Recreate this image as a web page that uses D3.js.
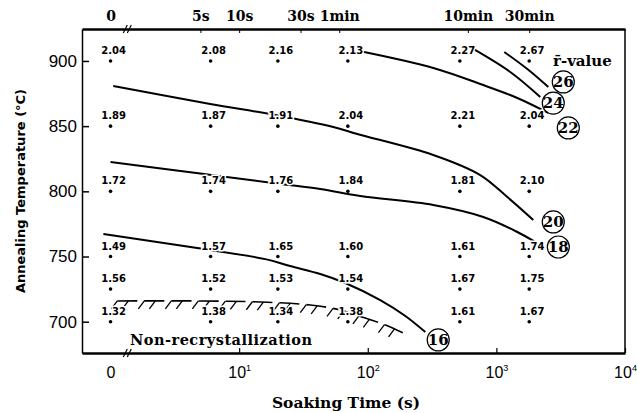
<!DOCTYPE html>
<html>
<head>
<meta charset="utf-8">
<script src="https://cdn.jsdelivr.net/npm/d3@7"></script>
<style>
  body { margin: 0; background: white; }
</style>
</head>
<body>
<div id="chart"></div>
<script>
// soaking times (s) of the measured columns, 0 = no soaking
const times = [0, 6, 20, 70, 520, 1800];
// annealing temperatures of the rows
const temps = [900, 850, 800, 750, 725, 700];
// r-values, one row per temperature
const r900 = [2.04, 2.08, 2.16, 2.13, 2.27, 2.67];
const r850 = [1.89, 1.87, 1.91, 2.04, 2.21, 2.04];
const r800 = [1.72, 1.74, 1.76, 1.84, 1.81, 2.10];
const r750 = [1.49, 1.57, 1.65, 1.60, 1.61, 1.74];
const r725 = [1.56, 1.52, 1.53, 1.54, 1.67, 1.75];
const r700 = [1.32, 1.38, 1.34, 1.38, 1.61, 1.67];
const rRows = [r900, r850, r800, r750, r725, r700];

// iso r-value lines, [time, temp]
const line26 = [[1152, 906.9], [1740, 893.8], [2535, 880]];
const line24 = [[661, 909.2], [1282, 891.5], [2194, 872.3]];
const line22 = [[85.9, 907.6], [323, 894.6], [791, 881.5], [1455, 871.6], [2535, 860.1]];
const line20 = [[1.05, 880.8], [5.96, 867], [19.1, 858.5], [53.9, 849.3], [82.9, 844], [323, 827.9], [749, 812.5], [1216, 795.6], [1936, 778]];
const line18 = [[1.0, 822.5], [4.98, 813.6], [20.9, 805.7], [42.7, 801.8], [87.4, 796.4], [323, 789.5], [791, 780.3], [1455, 768.8], [2008, 761.1]];
const line16 = [[0.88, 767.3], [4.72, 756.5], [16, 748], [24.9, 742.7], [42.7, 736.6], [66.8, 729.7], [125, 716.6], [196, 704.4], [280, 692.1]];
const isoLines = [line26, line24, line22, line20, line18, line16];

// circled labels of the iso lines
const isoNames = ["26", "24", "22", "20", "18", "16"];
const isoLabelTimes = [3313, 2769, 3624, 2769, 3030, 353];
const isoLabelTemps = [883.9, 867.7, 848.6, 776.5, 757.3, 686];

// non-recrystallization boundary
const boundary = [[1.13, 715.9], [4.98, 715.9], [14.6, 715.1], [35.7, 712.8], [61.1, 709], [95.6, 702.8], [137, 697.5], [189, 691.3]];

// axes
const yTicks = [700, 750, 800, 850, 900];
const bottomTicks = [1, 10, 100, 1000, 10000];
const bottomBase = ["0", "10", "10", "10", "10"];
const bottomExp = ["", "1", "2", "3", "4"];
const topTicks = [1, 5, 10, 30, 60, 600, 1800];
const topLabels = ["0", "5s", "10s", "30s", "1min", "10min", "30min"];
const breakTime = 1.35;

const W = 637, H = 413;
const mLeft = 82, mRight = 625, mTop = 29, mBottom = 353;

let svg = d3.select("#chart")
  .append("svg")
  .attr("width", W)
  .attr("height", H);

const xLog = d3.scaleLog().domain([0.6, 1e4]).range([mLeft, mRight]);
const x = t => xLog(t === 0 ? 1 : t);
const y = d3.scaleLinear().domain([676, 924.5]).range([mBottom, mTop]);

const serif = "'DejaVu Serif', serif";
const sans = "'DejaVu Sans', sans-serif";

// frame, right side
svg.append("line")
  .attr("x1", mRight).attr("x2", mRight)
  .attr("y1", mTop).attr("y2", mBottom)
  .attr("stroke", "black").attr("stroke-width", 1.5);

// left axis
let yAxis = svg.append("g")
  .attr("transform", `translate(${mLeft},0)`)
  .call(d3.axisLeft(y).tickValues(yTicks).tickSizeInner(-7).tickSizeOuter(0).tickPadding(5));
yAxis.select(".domain").attr("stroke-width", 1.5);
yAxis.selectAll(".tick line").attr("stroke-width", 1.5);
yAxis.selectAll("text")
  .attr("font-family", "'Liberation Sans', Arial, sans-serif")
  .attr("font-size", 17)
  .attr("fill", "black");

// bottom axis
let xAxis = svg.append("g")
  .attr("transform", `translate(0,${mBottom})`)
  .call(d3.axisBottom(xLog).tickValues(bottomTicks).tickSizeInner(-5).tickSizeOuter(0).tickPadding(14).tickFormat(() => ""));
xAxis.select(".domain").attr("stroke-width", 2.5);
xAxis.selectAll(".tick line").attr("stroke-width", 1.2)
  .attr("opacity", (d, i) => i === 0 ? 0 : 1);
xAxis.selectAll(".tick text")
  .attr("font-family", "'Liberation Sans', Arial, sans-serif")
  .attr("font-size", 16)
  .attr("fill", "black")
  .each(function(d, i) {
    let t = d3.select(this);
    t.append("tspan").text(bottomBase[i]);
    if (bottomExp[i]) {
      t.append("tspan").attr("dy", -7).attr("font-size", 9).text(bottomExp[i]);
    }
  });

// top axis
let topAxis = svg.append("g")
  .attr("transform", `translate(0,${mTop})`)
  .call(d3.axisTop(xLog).tickValues(topTicks).tickSizeInner(-4).tickSizeOuter(0).tickPadding(8)
    .tickFormat((d, i) => topLabels[i]));
topAxis.select(".domain").attr("stroke-width", 2.5);
topAxis.selectAll(".tick line").attr("stroke-width", 1)
  .attr("opacity", (d, i) => i === 0 ? 0 : 1);
topAxis.selectAll("text")
  .attr("font-family", serif)
  .attr("font-weight", "bold")
  .attr("font-size", 14)
  .attr("fill", "black");

// axis breaks "//"
[mTop, mBottom].forEach(yy => {
  [-2, 2].forEach(dx => {
    svg.append("line")
      .attr("x1", xLog(breakTime) + dx - 2).attr("y1", yy + 4)
      .attr("x2", xLog(breakTime) + dx + 2).attr("y2", yy - 4)
      .attr("stroke", "black").attr("stroke-width", 1.2);
  });
});

// iso r-value lines
let isoLine = d3.line()
  .x(d => xLog(d[0]))
  .y(d => y(d[1]))
  .curve(d3.curveCatmullRom);

svg.selectAll(".iso")
  .data(isoLines)
  .enter()
  .append("path")
  .attr("class", "iso")
  .attr("d", isoLine)
  .attr("fill", "none")
  .attr("stroke", "black")
  .attr("stroke-width", 2);

// non-recrystallization boundary with hatching
let bPath = svg.append("path")
  .attr("d", isoLine(boundary))
  .attr("fill", "none")
  .attr("stroke", "black")
  .attr("stroke-width", 1.6)
  .attr("stroke-dasharray", "20 7");

let len = bPath.node().getTotalLength();
let hatch = [];
for (let s = 0; s < len; s += 27) {
  hatch.push(s);
  if (s + 11 < len) hatch.push(s + 11);
}
svg.selectAll(".hatch")
  .data(hatch)
  .enter()
  .append("line")
  .attr("class", "hatch")
  .each(function(s) {
    let p = bPath.node().getPointAtLength(s);
    d3.select(this)
      .attr("x1", p.x).attr("y1", p.y)
      .attr("x2", p.x - 6).attr("y2", p.y + 8);
  })
  .attr("stroke", "black")
  .attr("stroke-width", 1.3);

// data points and their r-values
let cells = [];
temps.forEach((T, i) => {
  times.forEach((t, j) => {
    cells.push({t: t, T: T, r: rRows[i][j]});
  });
});

svg.selectAll(".pt")
  .data(cells)
  .enter()
  .append("circle")
  .attr("class", "pt")
  .attr("cx", d => x(d.t))
  .attr("cy", d => y(d.T))
  .attr("r", 1.8)
  .attr("fill", "black");

svg.selectAll(".rv")
  .data(cells)
  .enter()
  .append("text")
  .attr("class", "rv")
  .attr("x", d => x(d.t) + 3)
  .attr("y", d => y(d.T) - 7)
  .attr("text-anchor", "middle")
  .attr("font-family", sans)
  .attr("font-weight", "bold")
  .attr("font-size", 10)
  .attr("fill", "black")
  .attr("stroke", "white")
  .attr("stroke-width", 3)
  .attr("paint-order", "stroke")
  .text(d => d.r.toFixed(2));

// circled iso labels
let isoLab = svg.selectAll(".isolab")
  .data(isoNames)
  .enter()
  .append("g")
  .attr("class", "isolab")
  .attr("transform", (d, i) => `translate(${xLog(isoLabelTimes[i])},${y(isoLabelTemps[i])})`);

isoLab.append("circle")
  .attr("r", 11)
  .attr("fill", "white")
  .attr("stroke", "black")
  .attr("stroke-width", 1.2);

isoLab.append("text")
  .attr("text-anchor", "middle")
  .attr("dy", "0.36em")
  .attr("font-family", serif)
  .attr("font-weight", "bold")
  .attr("font-size", 15)
  .attr("fill", "black")
  .text(d => d);

// r-value legend text
svg.append("text")
  .attr("x", 553)
  .attr("y", 66)
  .attr("font-family", serif)
  .attr("font-weight", "bold")
  .attr("font-size", 15)
  .attr("fill", "black")
  .text("r\u0304-value");

svg.append("text")
  .attr("x", 130)
  .attr("y", 345)
  .attr("font-family", serif)
  .attr("font-weight", "bold")
  .attr("font-size", 14.5)
  .attr("letter-spacing", 0.5)
  .attr("fill", "black")
  .text("Non-recrystallization");

// axis titles
svg.append("text")
  .attr("x", 346)
  .attr("y", 408)
  .attr("text-anchor", "middle")
  .attr("font-family", serif)
  .attr("font-weight", "bold")
  .attr("font-size", 15.5)
  .attr("fill", "black")
  .text("Soaking Time (s)");

svg.append("text")
  .attr("transform", "translate(25,191) rotate(-90)")
  .attr("text-anchor", "middle")
  .attr("font-family", sans)
  .attr("font-weight", "bold")
  .attr("font-size", 13)
  .attr("fill", "black")
  .text("Annealing Temperature (\u00b0C)");
</script>
</body>
</html>
